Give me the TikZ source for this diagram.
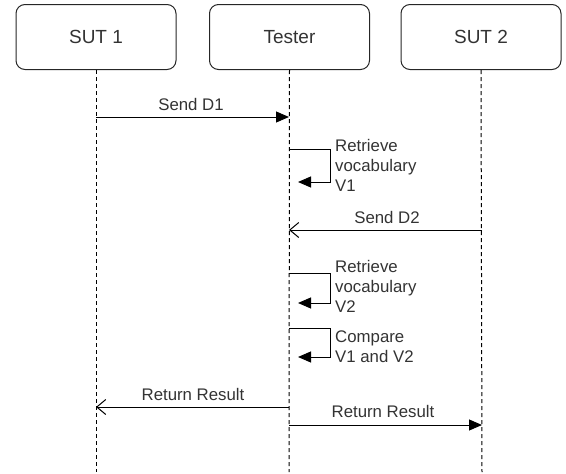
\documentclass[tikz,border=0pt]{standalone}
\usepackage{fontspec}
\setmainfont{Liberation Sans}
\usetikzlibrary{arrows.meta}
\begin{document}
\begin{tikzpicture}[x=1pt,y=-1pt,
  actor/.style={draw=black!85, line width=1pt, rounded corners=9pt, minimum width=160pt, minimum height=65pt, font=\fontsize{19}{22}\selectfont, text=black!80, inner sep=0pt},
  lifeline/.style={draw=black, line width=1pt, dash pattern=on 4pt off 3pt},
  msg/.style={draw=black, line width=1pt},
  filled/.style={-{Triangle[length=13pt,width=11pt]}},
  openarr/.style={-{Straight Barb[length=9pt,width=15pt,line width=1pt]}},
  lbl/.style={font=\fontsize{16.8}{20}\selectfont, text=black!80, inner sep=0pt},
  side/.style={lbl, align=left, anchor=west}
]
\useasboundingbox (0,0) rectangle (566,474);
% actors
\node[actor] (s1) at (96,37) {SUT 1};
\node[actor] (t) at (289.5,37) {Tester};
\node[actor] (s2) at (481,37) {SUT 2};
% lifeline ends
\coordinate (s1e) at (96,472);
\coordinate (te) at (289,472);
\coordinate (s2e) at (482,472);
\draw[lifeline] (s1.south) -- (s1e);
\draw[lifeline] (t.south) -- (te);
\draw[lifeline] (s2.south) -- (s2e);

% Send D1
\coordinate (a1) at (96,117);
\coordinate (b1) at (289,117);
\draw[msg,filled] (a1) -- (b1);
\node[lbl] (l1) at (191,104) {Send D1};

% Self 1
\coordinate (c1) at (289,149);
\coordinate (d1) at (298,182);
\draw[msg,filled] (c1) -- (330,149) -- (330,182) -- (d1);
\node[side] (l2) at (335,165) {Retrieve\\vocabulary\\V1};

% Send D2
\coordinate (a2) at (482,230);
\coordinate (b2) at (289,230);
\draw[msg,openarr] (a2) -- (b2);
\node[lbl] (l3) at (387,217) {Send D2};

% Self 2
\coordinate (c2) at (289,273);
\coordinate (d2) at (298,303);
\draw[msg,filled] (c2) -- (330,273) -- (330,303) -- (d2);
\node[side] (l4) at (335,286) {Retrieve\\vocabulary\\V2};

% Self 3
\coordinate (c3) at (289,328);
\coordinate (d3) at (298,357);
\draw[msg,filled] (c3) -- (330,328) -- (330,357) -- (d3);
\node[side] (l5) at (335,347) {Compare\\V1 and V2};

% Return left
\coordinate (a4) at (289,407);
\coordinate (b4) at (96,407);
\draw[msg,openarr] (a4) -- (b4);
\node[lbl] (l6) at (193,394) {Return Result};

% Return right
\coordinate (a5) at (289,425);
\coordinate (b5) at (482,425);
\draw[msg,filled] (a5) -- (b5);
\node[lbl] (l7) at (383,411) {Return Result};
\end{tikzpicture}
\end{document}
